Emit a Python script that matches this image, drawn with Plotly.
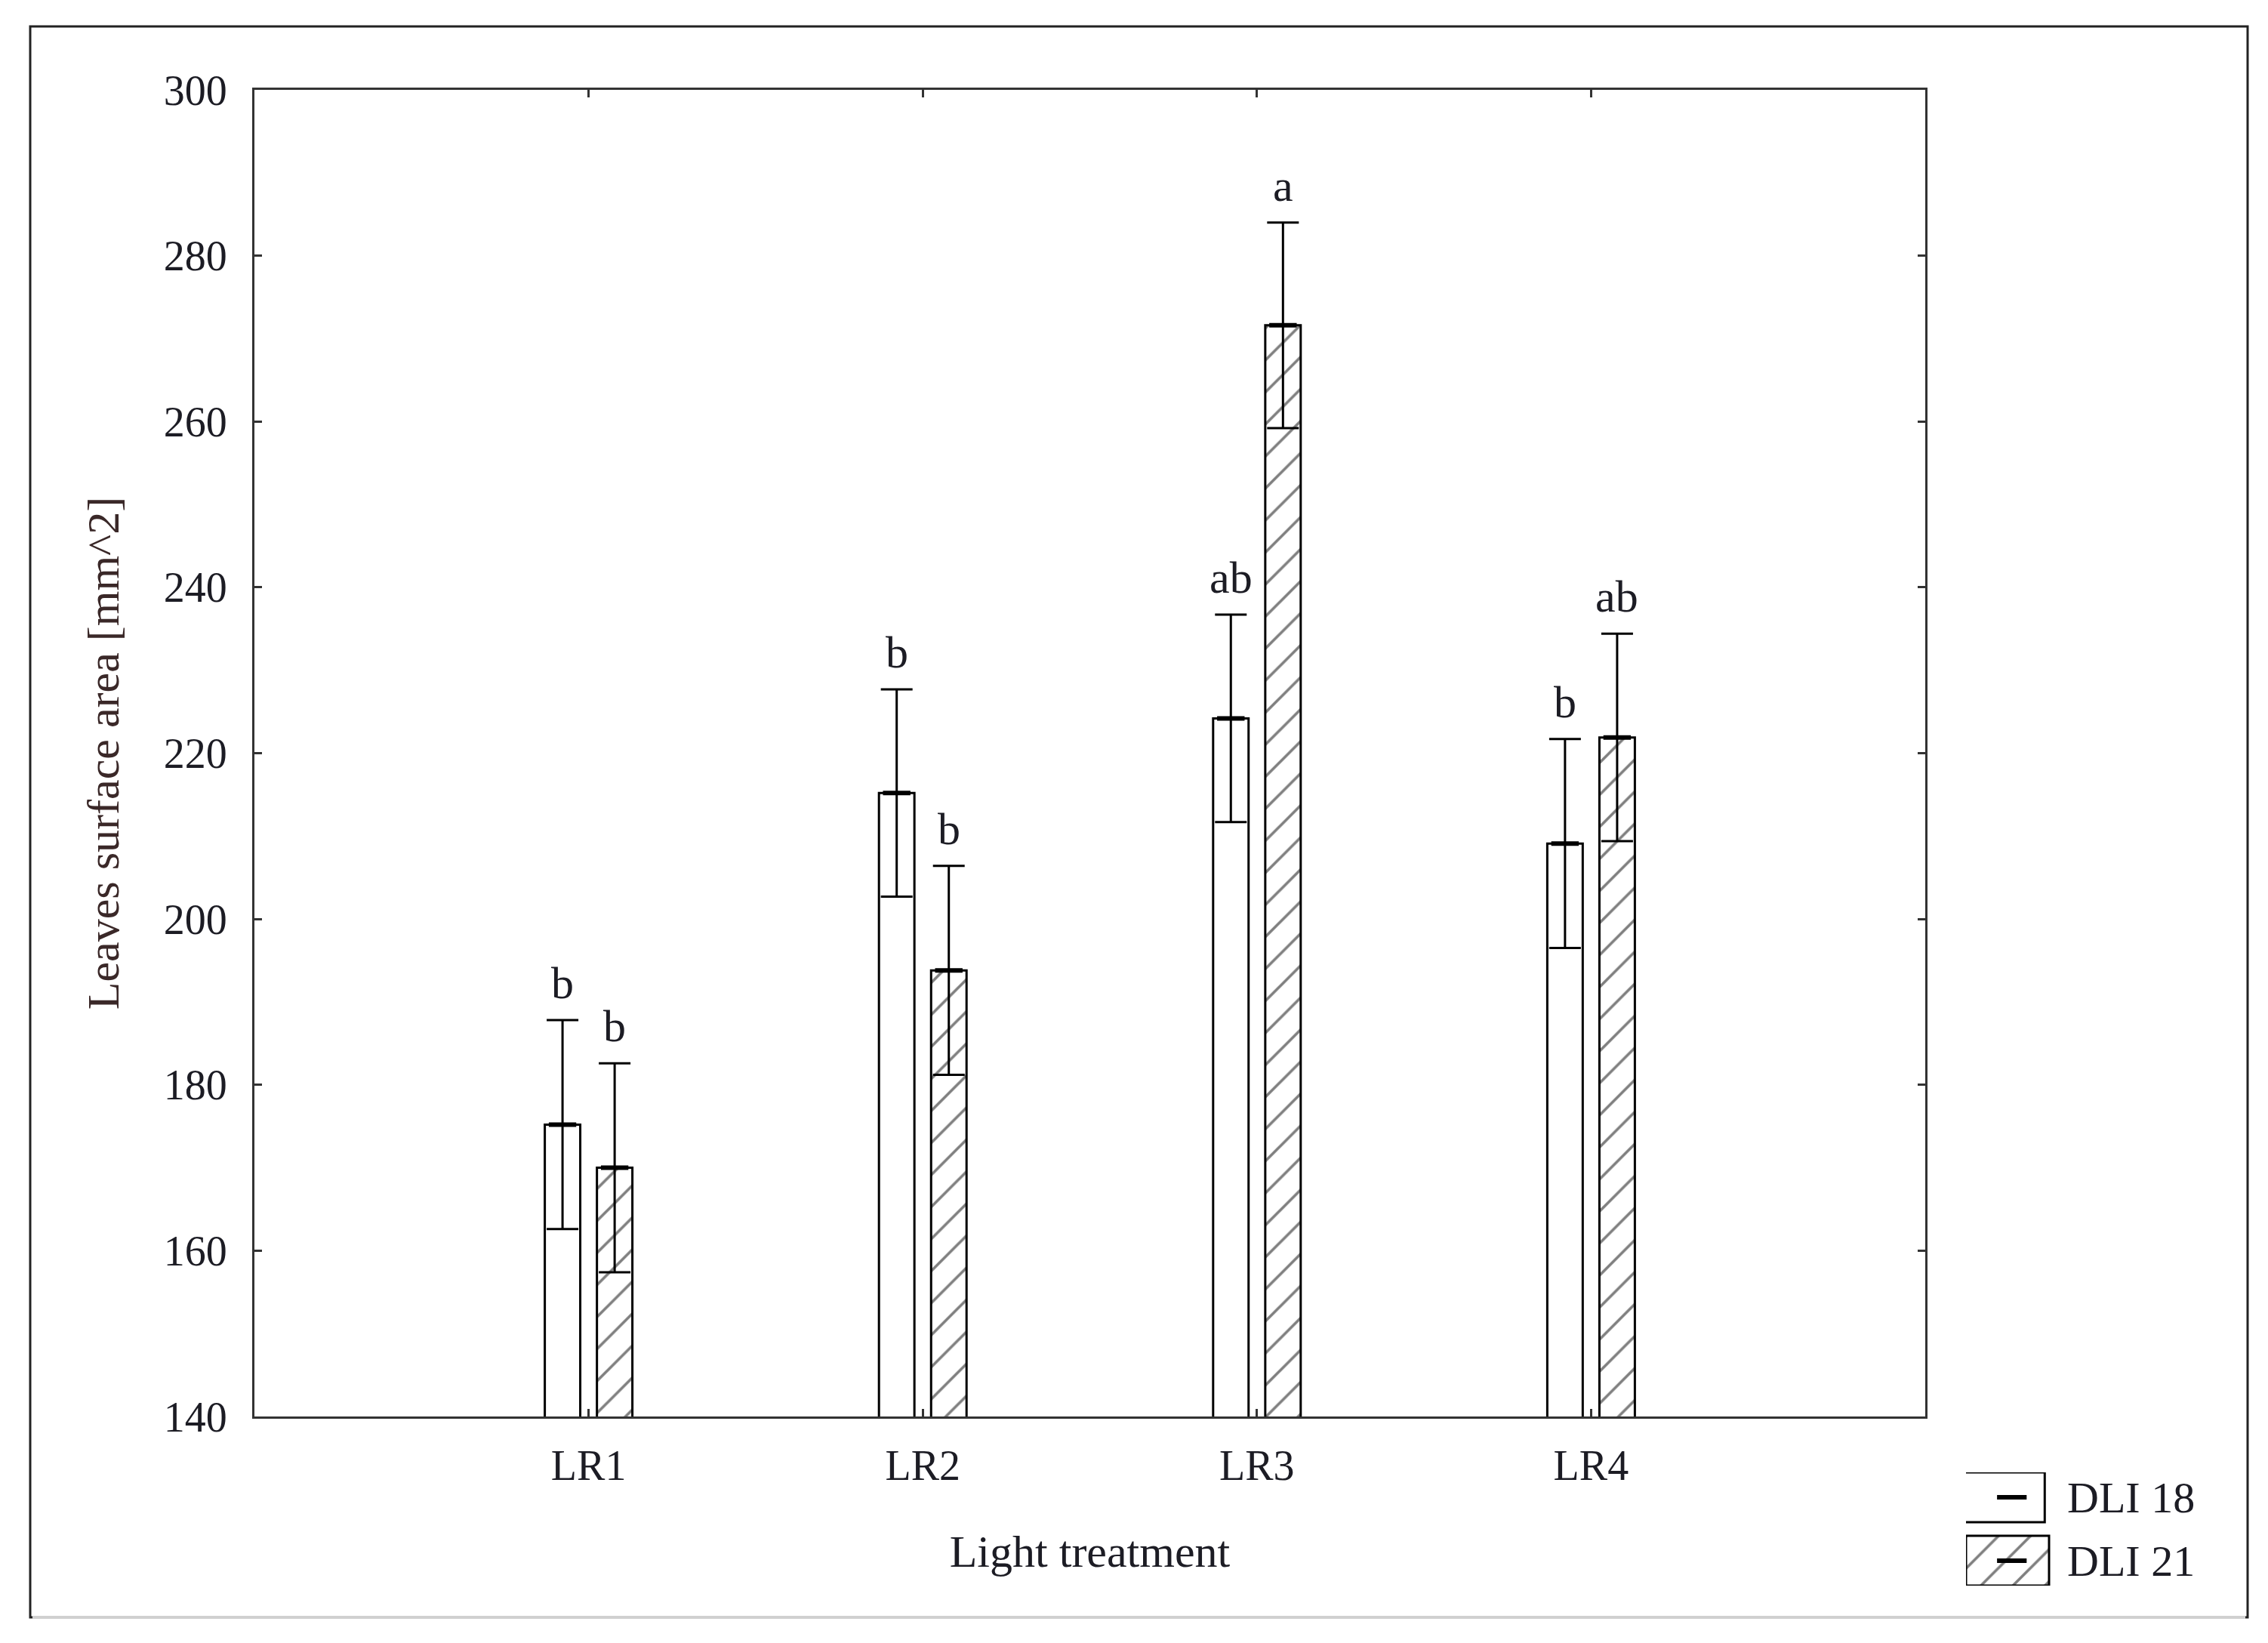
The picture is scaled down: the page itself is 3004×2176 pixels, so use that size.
import plotly.graph_objects as go

treatments = ["LR1", "LR2", "LR3", "LR4"]
groups = ["DLI 18", "DLI 21"]
mean_18 = [175.2, 215.2, 224.2, 209.1]
mean_21 = [170.0, 193.8, 271.6, 221.9]
err_18 = [12.6, 12.5, 12.5, 12.6]
err_21 = [12.6, 12.6, 12.4, 12.5]
letters_18 = ["b", "b", "ab", "b"]
letters_21 = ["b", "b", "a", "ab"]
yticks = [140, 160, 180, 200, 220, 240, 260, 280, 300]

W, H = 3004, 2176
OFF = 8  # page body margin
FONT = "Liberation Serif"
INK = "#1c1c24"

# plot area in page px
px0, px1, py0, py1 = 337 - OFF, 2550 - OFF, 119 - OFF, 1876 - OFF

fig = go.Figure()

for name, means, errs, pat, grp in [(groups[0], mean_18, err_18, "", "a"),
                                    (groups[1], mean_21, err_21, "/", "b")]:
    fig.add_trace(go.Bar(
        x=treatments, y=means, name=name, offsetgroup=grp,
        marker=dict(color="white", line=dict(color="black", width=3),
                    pattern=dict(shape=pat, fgcolor="black", bgcolor="white",
                                 size=30, solidity=0.12)),
        error_y=dict(type="data", array=errs, symmetric=True,
                     color="black", thickness=3, width=21),
        showlegend=False))
    # mean marker on top of each bar
    fig.add_trace(go.Scatter(
        x=treatments, y=means, mode="markers", offsetgroup=grp,
        marker=dict(symbol="line-ew", size=26, color="black",
                    line=dict(color="black", width=6)),
        showlegend=False, hoverinfo="skip"))

# significance letters
for means, errs, labs, shift in [(mean_18, err_18, letters_18, -34.5),
                                 (mean_21, err_21, letters_21, 34.5)]:
    for t, m, e, lab in zip(treatments, means, errs, labs):
        fig.add_annotation(x=t, y=m + e, text=lab, showarrow=False,
                           xshift=shift, yshift=14, yanchor="bottom",
                           font=dict(family=FONT, size=60, color=INK))

# legend keys drawn on a hidden helper axis
lx0, lx1, ly0, ly1 = 2604 - OFF, 2714 - OFF, 1950 - OFF, 2100 - OFF
fig.add_trace(go.Scatter(x=[0, 1, 1, 0, 0], y=[1.12, 1.12, 2, 2, 1.12],
                         mode="lines", fill="toself", fillcolor="white",
                         line=dict(color="black", width=3),
                         xaxis="x2", yaxis="y2", showlegend=False, hoverinfo="skip"))
fig.add_trace(go.Scatter(x=[0, 1, 1, 0, 0], y=[0, 0, 0.88, 0.88, 0],
                         mode="lines", fill="toself", fillcolor="white",
                         fillpattern=dict(shape="/", fgcolor="black", bgcolor="white",
                                          size=30, solidity=0.12),
                         line=dict(color="black", width=3),
                         xaxis="x2", yaxis="y2", showlegend=False, hoverinfo="skip"))
fig.add_trace(go.Scatter(x=[0.5, 0.5], y=[1.56, 0.44], mode="markers",
                         marker=dict(symbol="line-ew", size=28, color="black",
                                     line=dict(color="black", width=6)),
                         xaxis="x2", yaxis="y2", showlegend=False, hoverinfo="skip"))
for yy, name in [(1.56, groups[0]), (0.44, groups[1])]:
    fig.add_annotation(x=1.2, y=yy, xref="x2", yref="y2", text=name,
                       showarrow=False, xanchor="left",
                       font=dict(family=FONT, size=58, color=INK))

# outer frame: dark on three sides, light grey at the bottom
fx0, fx1 = (40 - OFF) / W, (2977 - OFF) / W
fy0, fy1 = 1 - (2142 - OFF) / H, 1 - (35 - OFF) / H
fig.add_shape(type="rect", xref="paper", yref="paper", layer="above",
              x0=fx0, x1=fx1, y0=fy0, y1=fy1,
              line=dict(color="#222222", width=3))
fig.add_shape(type="line", xref="paper", yref="paper", layer="above",
              x0=fx0 + 0.001, x1=fx1 - 0.001, y0=fy0, y1=fy0,
              line=dict(color="#d0d0d0", width=4))

axis_common = dict(showline=True, linecolor="#333333", linewidth=3, mirror="ticks",
                   ticks="inside", ticklen=10, tickwidth=3, tickcolor="#333333",
                   showgrid=False, zeroline=False, automargin=False,
                   tickfont=dict(family=FONT, size=56, color=INK))

fig.update_layout(
    width=W, height=H,
    margin=dict(l=0, r=0, t=0, b=0),
    paper_bgcolor="white", plot_bgcolor="white",
    barmode="group", bargap=0.688, bargroupgap=0.32,
    scattermode="group", scattergap=0.688,
    xaxis=dict(axis_common, domain=[px0 / W, px1 / W], range=[-1, 4],
               ticklabelstandoff=14,
               title=dict(text="Light treatment", standoff=62,
                          font=dict(family=FONT, size=60, color=INK))),
    yaxis=dict(axis_common, domain=[1 - py1 / H, 1 - py0 / H], range=[140, 300],
               tickvals=yticks, ticklabelstandoff=22,
               title=dict(text="Leaves surface area [mm^2]", standoff=40,
                          font=dict(family=FONT, size=60, color="#3a2828"))),
    xaxis2=dict(domain=[lx0 / W, 1.0], range=[0, (W - lx0) / (lx1 - lx0)],
                visible=False, fixedrange=True),
    yaxis2=dict(domain=[1 - ly1 / H, 1 - ly0 / H], range=[0, 2],
                visible=False, fixedrange=True, anchor="x2"),
    showlegend=False,
)

fig.write_html("out.html")
